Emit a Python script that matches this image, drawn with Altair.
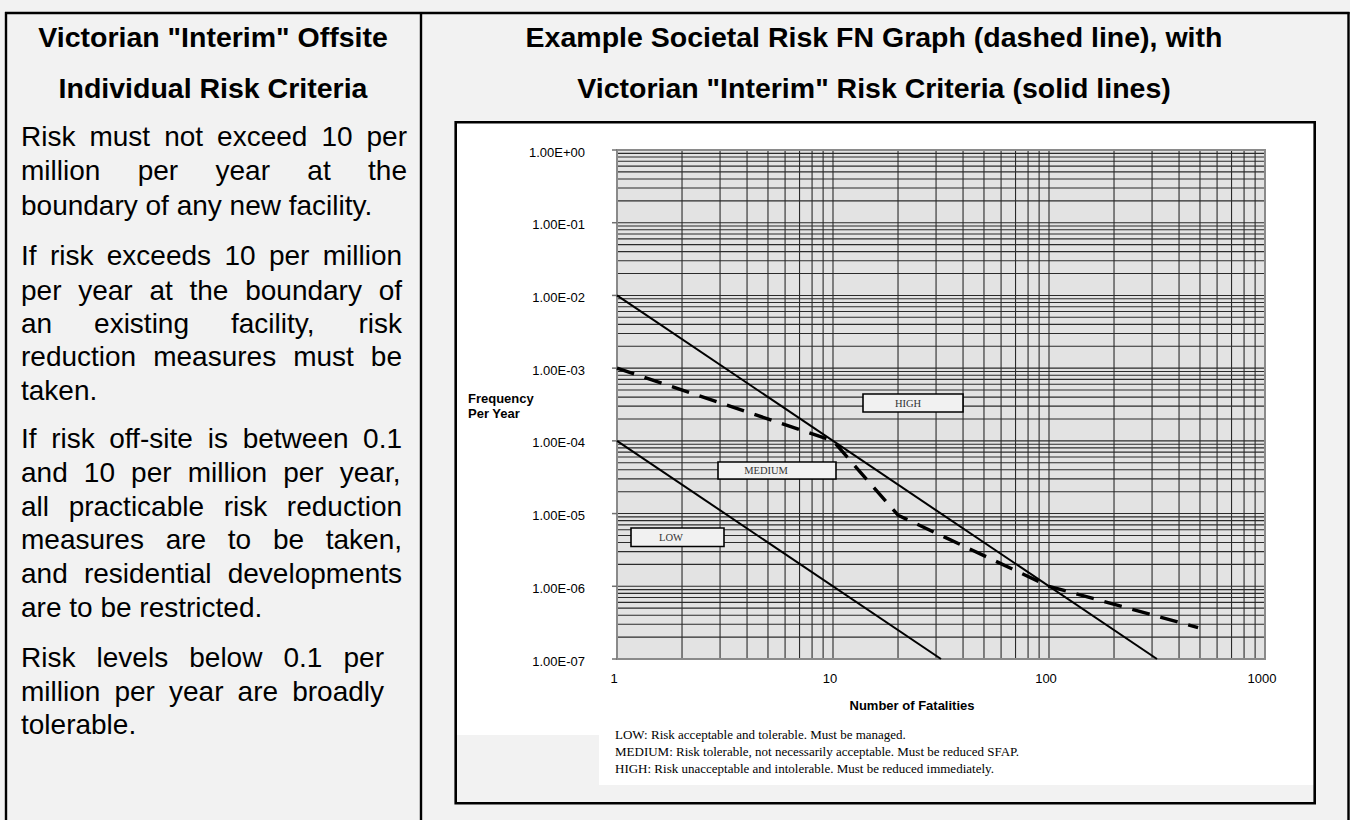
import altair as alt
import pandas as pd

# ---------------- chart values ----------------
fn_fatalities = [1, 10, 20, 100, 490]
fn_frequency = [1e-3, 1e-4, 9.5e-6, 1e-6, 2.7e-7]

high_fatalities = [1, 316.2]
high_frequency = [1e-2, 1e-7]
low_fatalities = [1, 31.62]
low_frequency = [1e-4, 1e-7]

x_ticks = [1, 10, 100, 1000]
x_tick_labels = ["1", "10", "100", "1000"]
y_ticks = [1e-7, 1e-6, 1e-5, 1e-4, 1e-3, 1e-2, 1e-1, 1.0]
y_tick_labels = ["1.00E-07", "1.00E-06", "1.00E-05", "1.00E-04",
                 "1.00E-03", "1.00E-02", "1.00E-01", "1.00E+00"]

x_grid = [1, 2, 3, 4, 5, 6, 7, 8, 9,
          10, 20, 30, 40, 50, 60, 70, 80, 90,
          100, 200, 300, 400, 500, 600, 700, 800, 900, 1000]
y_grid = [m * 10.0 ** e for e in range(-7, 0) for m in range(1, 10)] + [1.0]

region_labels = ["HIGH", "MEDIUM", "LOW"]
legend_lines = [
    "LOW: Risk acceptable and tolerable.  Must be managed.",
    "MEDIUM: Risk tolerable, not necessarily acceptable.  Must be reduced SFAP.",
    "HIGH: Risk unacceptable and intolerable.  Must be reduced immediately.",
]
x_title = "Number of Fatalities"
y_title = ["Frequency", "Per Year"]

left_title = ['Victorian "Interim" Offsite', "Individual Risk Criteria"]
right_title = ['Example Societal Risk FN Graph (dashed line), with',
               'Victorian "Interim" Risk Criteria (solid lines)']
left_paragraphs = [
    ["Risk must not exceed 10 per",
     "million per year at the",
     "boundary of any new facility."],
    ["If risk exceeds 10 per million",
     "per year at the boundary of",
     "an existing facility, risk",
     "reduction measures must be",
     "taken."],
    ["If risk off-site is between 0.1",
     "and 10 per million per year,",
     "all practicable risk reduction",
     "measures are to be taken,",
     "and residential developments",
     "are to be restricted."],
    ["Risk levels below 0.1 per",
     "million per year are broadly",
     "tolerable."],
]

# ---------------- layout (page pixels) ----------------
PAGE_W, PAGE_H = 1350, 820
OX, OY, W, H = 617, 150, 648, 509          # plot area on the page


def px(x):
    return x - OX


def py(y):
    return y - OY


para_right = [407, 402, 402, 384]
para_line_y = [[138, 172, 207],
               [257, 292, 325, 358, 392],
               [440, 474, 508, 541, 575, 609],
               [659, 693, 726]]
TEXT_LEFT = 21
BODY_FS = 28
TITLE_FS = 28.5

ARIAL = {' ': 278, '!': 278, '"': 355, ',': 278, '-': 333, '.': 278,
         'A': 667, 'B': 667, 'C': 722, 'D': 722, 'E': 667, 'F': 611, 'G': 778,
         'H': 722, 'I': 278, 'L': 556, 'M': 833, 'N': 722, 'O': 778, 'R': 722,
         'S': 667, 'V': 667, 'W': 944,
         'a': 556, 'b': 556, 'c': 500, 'd': 556, 'e': 556, 'f': 278, 'g': 556,
         'h': 556, 'i': 222, 'j': 222, 'k': 500, 'l': 222, 'm': 833, 'n': 556,
         'o': 556, 'p': 556, 'q': 556, 'r': 333, 's': 500, 't': 278, 'u': 556,
         'v': 500, 'w': 722, 'x': 500, 'y': 500, 'z': 500}


def tw(s, fs):
    return sum(ARIAL.get(c, 556) for c in s) * fs / 1000.0


body_rows = []
for para, right, ys_ in zip(left_paragraphs, para_right, para_line_y):
    for i, (line, y) in enumerate(zip(para, ys_)):
        words = line.split(" ")
        if i == len(para) - 1 or len(words) == 1:
            body_rows.append({"t": line, "x": px(TEXT_LEFT), "y": py(y)})
            continue
        total = sum(tw(w, BODY_FS) for w in words)
        gap = (right - TEXT_LEFT - total) / (len(words) - 1)
        x = TEXT_LEFT
        for w in words:
            body_rows.append({"t": w, "x": px(x), "y": py(y)})
            x += tw(w, BODY_FS) + gap
body_df = pd.DataFrame(body_rows)

left_title_df = pd.DataFrame({"t": left_title, "x": [px(213)] * 2, "y": [py(38), py(89)]})
right_title_df = pd.DataFrame({"t": right_title, "x": [px(874)] * 2, "y": [py(38), py(89)]})
legend_df = pd.DataFrame({"t": legend_lines, "x": [px(615)] * 3,
                          "y": [py(735), py(752), py(769)]})
ytitle_df = pd.DataFrame({"t": y_title, "x": [px(468)] * 2, "y": [py(399), py(414)]})
xtitle_df = pd.DataFrame({"t": [x_title], "x": [px(912)], "y": [py(706)]})

box_df = pd.DataFrame({
    "t": region_labels,
    "x": [px(863), px(718), px(631)], "x2": [px(963), px(836), px(724)],
    "y": [py(394), py(462), py(528)], "y2": [py(412), py(479), py(546.5)],
    "tx": [px(908), px(766), px(671)], "ty": [py(403.5), py(471), py(537.5)],
})

white_df = pd.DataFrame({
    "x": [px(456), px(599)], "x2": [px(1315), px(1315)],
    "y": [py(122), py(735)], "y2": [py(735), py(785)],
})
frame_df = pd.DataFrame({"x": [px(455.7)], "x2": [px(1314.7)],
                         "y": [py(122.3)], "y2": [py(803.3)]})
border_df = pd.DataFrame({
    "x": [px(5), px(6), px(421), px(1348.5)],
    "x2": [px(1349.5), px(6), px(421), px(1348.5)],
    "y": [py(13), py(12), py(12), py(12)],
    "y2": [py(13), py(PAGE_H + 5), py(PAGE_H + 5), py(PAGE_H + 5)],
})

xs = alt.Scale(type="log", domain=[1, 1000], nice=False)
ys = alt.Scale(type="log", domain=[1e-7, 1.0], nice=False)

SANS = "Liberation Sans"
SERIF = "Liberation Serif"


def raw(field):
    return alt.X(f"{field}:Q", scale=None, axis=None)


def rawy(field):
    return alt.Y(f"{field}:Q", scale=None, axis=None)


def lx(field):
    return alt.X(f"{field}:Q", scale=xs, axis=None)


def ly(field):
    return alt.Y(f"{field}:Q", scale=ys, axis=None)


def text_layer(df, **kw):
    return alt.Chart(df).mark_text(**kw).encode(x=raw("x"), y=rawy("y"), text="t:N")


bg_white = alt.Chart(white_df).mark_rect(color="white").encode(
    x=raw("x"), x2="x2:Q", y=rawy("y"), y2="y2:Q")
frame = alt.Chart(frame_df).mark_rect(filled=False, stroke="black", strokeWidth=2.6).encode(
    x=raw("x"), x2="x2:Q", y=rawy("y"), y2="y2:Q")
borders = alt.Chart(border_df).mark_rule(color="black", strokeWidth=2.4).encode(
    x=raw("x"), x2="x2:Q", y=rawy("y"), y2="y2:Q")

plot_bg = alt.Chart(pd.DataFrame({"a": [0]})).mark_rect(color="#e3e3e3").encode(
    x=alt.value(0), x2=alt.value(W), y=alt.value(0), y2=alt.value(H))

vgrid = alt.Chart(pd.DataFrame({"v": x_grid})).mark_rule(
    color="#2b2b2b", strokeWidth=1.1).encode(
    x=lx("v"), y=alt.value(0), y2=alt.value(H))
hgrid = alt.Chart(pd.DataFrame({"v": y_grid})).mark_rule(
    color="#2b2b2b", strokeWidth=1.1).encode(
    y=ly("v"), x=alt.value(0), x2=alt.value(W))

plot_border = alt.Chart(pd.DataFrame({"a": [0]})).mark_rect(
    filled=False, stroke="#8a8a8a", strokeWidth=2).encode(
    x=alt.value(0), x2=alt.value(W), y=alt.value(0), y2=alt.value(H))

# axis ticks and labels, placed through the log scales
ytick_df = pd.DataFrame({"v": y_ticks, "t": y_tick_labels})
xtick_df = pd.DataFrame({"v": x_ticks, "t": x_tick_labels})
y_ticks_marks = alt.Chart(ytick_df).mark_rule(color="#707070", strokeWidth=1.5).encode(
    y=ly("v"), x=alt.value(-5), x2=alt.value(0))
y_labels = alt.Chart(ytick_df).mark_text(
    font=SANS, fontSize=13, align="right", baseline="middle", dy=2.5, color="black").encode(
    y=ly("v"), x=alt.value(-32), text="t:N")
x_labels = alt.Chart(xtick_df).mark_text(
    font=SANS, fontSize=13, align="center", baseline="middle", dx=-3, color="black").encode(
    x=lx("v"), y=alt.value(H + 20), text="t:N")

criteria_df = pd.DataFrame({
    "series": ["HIGH limit"] * 2 + ["LOW limit"] * 2,
    "n": high_fatalities + low_fatalities,
    "f": high_frequency + low_frequency,
})
criteria = alt.Chart(criteria_df).mark_line(color="black", strokeWidth=2).encode(
    x=lx("n"), y=ly("f"), detail="series:N")

fn_df = pd.DataFrame({"n": fn_fatalities, "f": fn_frequency})
fn_line = alt.Chart(fn_df).mark_line(color="black", strokeWidth=3.4, strokeDash=[18, 11]).encode(
    x=lx("n"), y=ly("f"))

box_shadow = alt.Chart(box_df).mark_rect(fill="black").encode(
    x=raw("x"), x2="x2:Q", y=rawy("y"), y2="y2:Q", xOffset=alt.value(1.5),
    yOffset=alt.value(1.5))
boxes = alt.Chart(box_df).mark_rect(fill="#f1f1f1", stroke="black", strokeWidth=1.6).encode(
    x=raw("x"), x2="x2:Q", y=rawy("y"), y2="y2:Q")
box_text = alt.Chart(box_df).mark_text(font=SERIF, fontSize=10.5, color="#333333",
                                       align="center", baseline="middle").encode(
    x=raw("tx"), y=rawy("ty"), text="t:N")

layers = [
    bg_white, frame, borders, plot_bg, vgrid, hgrid, plot_border,
    y_ticks_marks, y_labels, x_labels,
    criteria, fn_line, box_shadow, boxes, box_text,
    text_layer(left_title_df, font=SANS, fontSize=TITLE_FS, fontWeight="bold",
               align="center", baseline="middle", color="black"),
    text_layer(right_title_df, font=SANS, fontSize=TITLE_FS, fontWeight="bold",
               align="center", baseline="middle", color="black"),
    text_layer(body_df, font=SANS, fontSize=BODY_FS, align="left",
               baseline="middle", color="black"),
    text_layer(legend_df, font=SERIF, fontSize=13, align="left",
               baseline="middle", color="black"),
    text_layer(ytitle_df, font=SANS, fontSize=13, fontWeight="bold", align="left",
               baseline="middle", color="black"),
    text_layer(xtitle_df, font=SANS, fontSize=13, fontWeight="bold", align="center",
               baseline="middle", color="black"),
]

chart = alt.layer(*layers).properties(
    width=W, height=H,
    padding={"left": OX, "top": OY, "right": PAGE_W - OX - W, "bottom": PAGE_H - OY - H},
    autosize=alt.AutoSizeParams(type="none"),
    background="#f2f2f2",
).configure_view(strokeOpacity=0)

chart.save("out.html", embed_options={"renderer": "svg", "actions": False})
